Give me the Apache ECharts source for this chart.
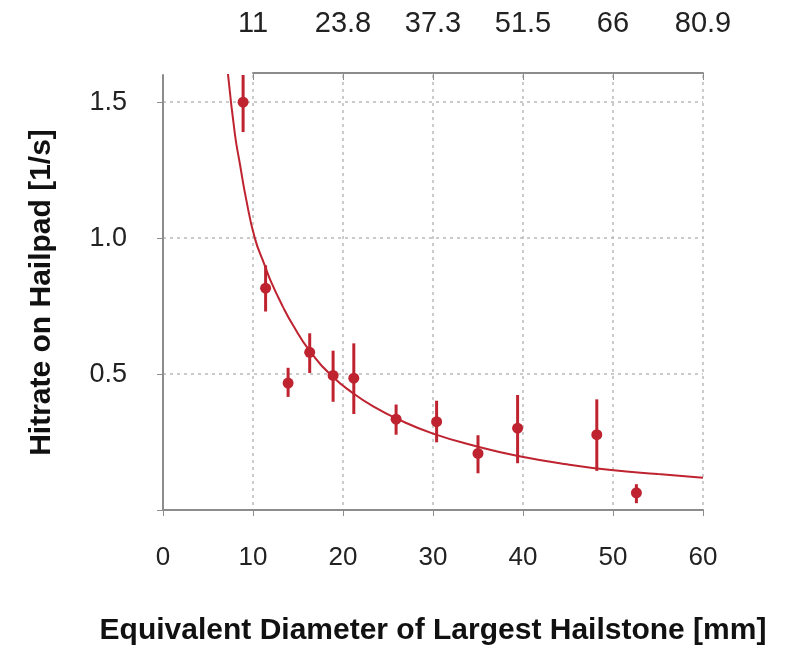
<!DOCTYPE html>
<html>
<head>
<meta charset="utf-8">
<title>Hitrate on Hailpad</title>
<script src="https://cdn.jsdelivr.net/npm/echarts@6/dist/echarts.min.js"></script>
<style>
  html, body { margin: 0; padding: 0; background: #fff; }
  #chart { width: 791px; height: 651px; }
</style>
</head>
<body>
<div id="chart"></div>
<script>
// measured hail sizes (mm) and hit rates (1/s) with error range
const diameters = [8.9, 11.4, 13.9, 16.3, 18.9, 21.2, 25.9, 30.4, 35.0, 39.4, 48.2, 52.6]
const hitrates  = [1.50, 0.816, 0.467, 0.58, 0.495, 0.485, 0.334, 0.325, 0.208, 0.301, 0.277, 0.063]
const errLow    = [1.39, 0.73, 0.416, 0.504, 0.398, 0.353, 0.277, 0.249, 0.135, 0.172, 0.144, 0.025]
const errHigh   = [1.60, 0.90, 0.523, 0.650, 0.586, 0.613, 0.388, 0.402, 0.275, 0.423, 0.407, 0.095]

// fitted curve
const fitX = [7.2, 8.0, 8.56, 9.2, 10.2, 11.3, 12.0, 13.3, 14.4, 16.3, 18.9, 21.1, 23.4, 25.9, 30, 35.1, 39.6, 44.9, 49.8, 55, 60]
const fitY = [1.61, 1.38, 1.27, 1.15, 1.0, 0.90, 0.84, 0.749, 0.682, 0.585, 0.489, 0.43, 0.38, 0.337, 0.281, 0.232, 0.198, 0.168, 0.147, 0.132, 0.119]

// top axis labels at x = 10, 20, ... 60
const topLabels = ['11', '23.8', '37.3', '51.5', '66', '80.9']

const red = '#bf2330'
const axisGray = '#8c8c8c'
const font = '"Liberation Sans", Arial, sans-serif'

const chart = echarts.init(document.getElementById('chart'))

const option = {
  backgroundColor: '#fff',
  animation: false,
  textStyle: { fontFamily: font },
  grid: [
    { left: 163, right: 88, top: 75, bottom: 140 },
    { left: 253, right: 88, top: 73, bottom: 140 }
  ],
  xAxis: [
    {
      type: 'value',
      gridIndex: 0,
      min: 0,
      max: 60,
      interval: 10,
      name: 'Equivalent Diameter of Largest Hailstone [mm]',
      nameLocation: 'middle',
      nameGap: 106,
      nameTextStyle: { fontSize: 30, fontWeight: 'bold', color: '#111', fontFamily: font },
      axisLine: { lineStyle: { color: axisGray, width: 2 } },
      axisTick: { length: 6, lineStyle: { color: axisGray } },
      axisLabel: { fontSize: 26, color: '#222', margin: 35, fontFamily: font },
      splitLine: { show: true, lineStyle: { color: '#bbb', type: [3, 4], width: 1.5 } }
    },
    {
      type: 'value',
      gridIndex: 1,
      position: 'top',
      min: 10,
      max: 60,
      interval: 10,
      axisLine: { onZero: false, lineStyle: { color: axisGray, width: 2 } },
      axisTick: { length: 7, inside: true, lineStyle: { color: axisGray } },
      axisLabel: {
        fontSize: 29, color: '#222', margin: 35, fontFamily: font,
        formatter: v => topLabels[Math.round((v - 10) / 10)]
      },
      splitLine: { show: false }
    }
  ],
  yAxis: [
    {
      type: 'value',
      gridIndex: 0,
      min: 0,
      max: 1.6,
      interval: 0.5,
      name: 'Hitrate on Hailpad [1/s]',
      nameLocation: 'middle',
      nameGap: 106,
      nameTextStyle: { fontSize: 30, fontWeight: 'bold', color: '#111', fontFamily: font },
      axisLine: { show: true, lineStyle: { color: axisGray, width: 2 } },
      axisTick: { show: true, length: 6, lineStyle: { color: axisGray } },
      axisLabel: {
        fontSize: 27, color: '#222', margin: 36, fontFamily: font,
        showMaxLabel: false,
        formatter: v => (v === 0 || v > 1.55 ? '' : v.toFixed(1))
      },
      splitLine: { show: true, showMaxLine: false, lineStyle: { color: '#bbb', type: [3, 4], width: 1.5 } }
    },
    {
      type: 'value',
      gridIndex: 1,
      show: false
    }
  ],
  series: [
    {
      name: 'fit',
      type: 'line',
      xAxisIndex: 0,
      yAxisIndex: 0,
      smooth: 0.5,
      showSymbol: false,
      lineStyle: { color: red, width: 2 },
      data: fitX.map((x, i) => [x, fitY[i]]),
      z: 3
    },
    {
      name: 'error',
      type: 'custom',
      xAxisIndex: 0,
      yAxisIndex: 0,
      renderItem: (params, api) => {
        const x = api.value(0)
        const p1 = api.coord([x, api.value(1)])
        const p2 = api.coord([x, api.value(2)])
        return {
          type: 'line',
          shape: { x1: p1[0], y1: p1[1], x2: p2[0], y2: p2[1] },
          style: { stroke: red, lineWidth: 3 }
        }
      },
      encode: { x: 0, y: [1, 2] },
      data: diameters.map((x, i) => [x, errLow[i], errHigh[i]]),
      z: 4
    },
    {
      name: 'measured',
      type: 'scatter',
      xAxisIndex: 0,
      yAxisIndex: 0,
      symbolSize: 11,
      itemStyle: { color: red, opacity: 1 },
      data: diameters.map((x, i) => [x, hitrates[i]]),
      z: 5
    }
  ]
}

chart.setOption(option)
</script>
</body>
</html>
